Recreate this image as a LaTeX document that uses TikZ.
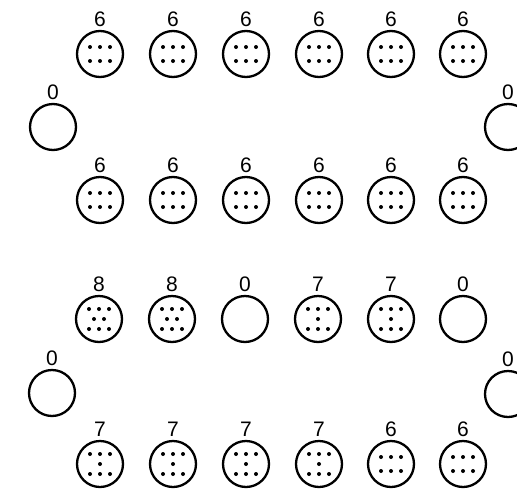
\documentclass[tikz,border=0pt]{standalone}
\usepackage{fontspec}
\setmainfont{Liberation Sans}
\tikzset{
  pit/.style={circle,draw,line width=2.3pt,minimum size=46pt,inner sep=0pt},
  lbl/.style={font=\fontsize{21}{21}\selectfont,inner sep=0pt},
  seed/.style={fill=black}
}
\newcommand\seedsix[1]{%
  \foreach \dx/\dy in {-10/-7,0/-7,10/-7,-10/7,0/7,10/7}
    {\fill[seed,shift={(#1.center)}] (\dx pt,\dy pt) circle (2pt);}}
\newcommand\seedseven[1]{%
  \foreach \dx/\dy in {-10/-10,0/-10,10/-10,0/0,-10/10,0/10,10/10}
    {\fill[seed,shift={(#1.center)}] (\dx pt,\dy pt) circle (2pt);}}
\newcommand\seedeight[1]{%
  \foreach \dx/\dy in {-10/-10,0/-10,10/-10,-5/0,5/0,-10/10,0/10,10/10}
    {\fill[seed,shift={(#1.center)}] (\dx pt,\dy pt) circle (2pt);}}
\newcommand\pitat[4]{%
  \node[pit] (#1) at (#2,#3) {};
  \node[lbl] (#1l) at (#2,#3-35) {#4};
  \ifcase#4\relax\or\or\or\or\or\or\seedsix{#1}\or\seedseven{#1}\or\seedeight{#1}\fi
}
\begin{document}
\begin{tikzpicture}[x=1pt,y=-1pt]
  \useasboundingbox (0,0) rectangle (517,493);
  \clip (0,0) rectangle (517,493);
  % top board
  \foreach \x/\n [count=\i] in {100/6,173/6,246/6,319/6,391/6,463/6}
    {\pitat{a\i}{\x}{54}{\n}}
  \pitat{sa}{53}{127}{0}
  \pitat{sb}{508}{127}{0}
  \foreach \x/\n [count=\i] in {100/6,173/6,246/6,319/6,391/6,463/6}
    {\pitat{b\i}{\x}{200}{\n}}
  % bottom board
  \foreach \x/\n [count=\i] in {99/8,172/8,245/0,318/7,391/7,463/0}
    {\pitat{c\i}{\x}{319}{\n}}
  \pitat{sc}{52}{393}{0}
  \pitat{sd}{508}{394}{0}
  \foreach \x/\n [count=\i] in {100/7,173/7,246/7,319/7,391/6,463/6}
    {\pitat{d\i}{\x}{464}{\n}}
\end{tikzpicture}
\end{document}
